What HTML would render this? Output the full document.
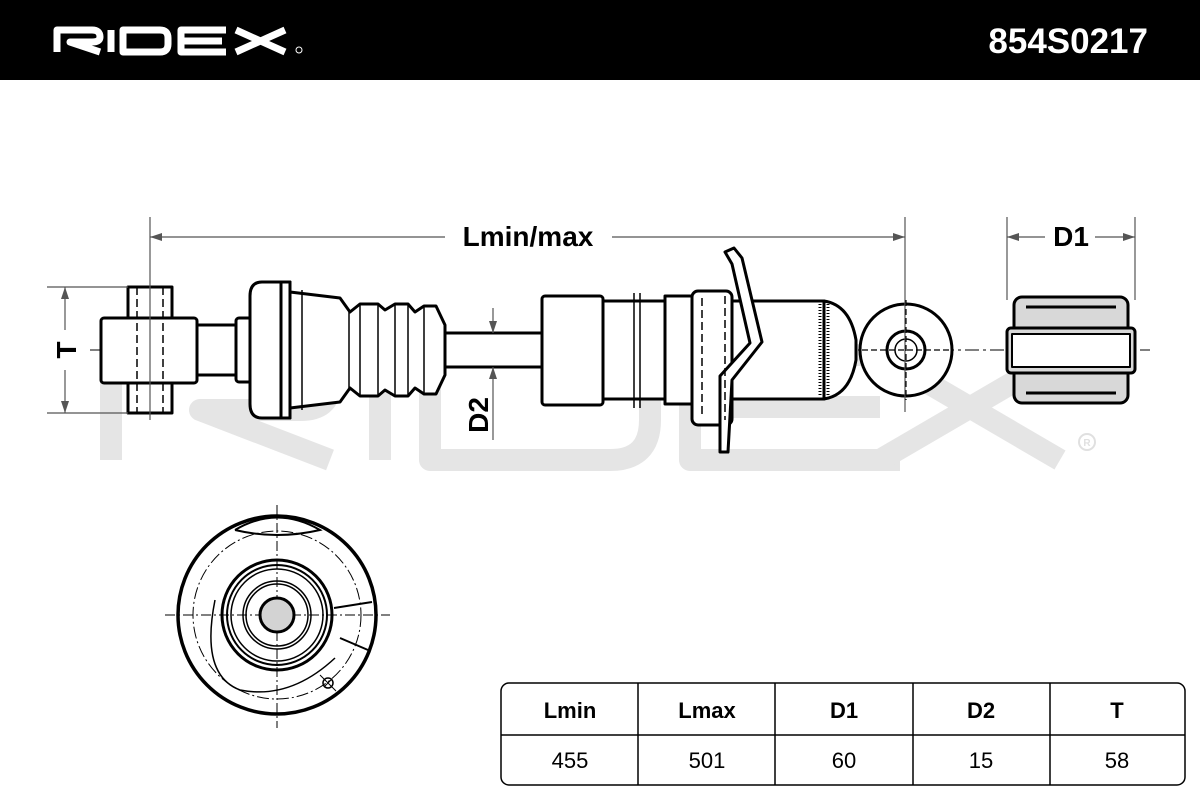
<!DOCTYPE html>
<html><head><meta charset="utf-8"><style>
html,body{margin:0;padding:0;background:#fff;width:1200px;height:800px;overflow:hidden}
svg{display:block}
text{font-family:"Liberation Sans",sans-serif;font-weight:bold}
</style></head><body>
<svg width="1200" height="800" viewBox="0 0 1200 800" xmlns="http://www.w3.org/2000/svg">
<rect x="0" y="0" width="1200" height="80" fill="#000"/>
<!-- logo -->
<g fill="none" stroke="#fff" stroke-width="7" stroke-linejoin="round">
<path d="M57 52 V30 H92 Q100 30 100 37 Q100 42 92 42 H70 L100 52"/>
<path d="M111 30 V52"/>
<path d="M123 30 H160 Q168 30 168 38 V44 Q168 52 160 52 H123 Z"/>
<path d="M226 30 H181 V52 H226 M181 41 H222"/>
<path d="M236 30 L285 52 M285 30 L236 52"/>
</g>
<circle cx="299" cy="50" r="3" fill="none" stroke="#fff" stroke-width="1"/>
<text x="1148" y="53" fill="#fff" font-size="35" text-anchor="end">854S0217</text>
<!-- watermark -->
<g fill="none" stroke="#e5e5e5" stroke-width="22" stroke-linejoin="round">
<path d="M111 460 V355 H300 Q330 355 330 385 Q330 410 300 410 H200 L330 460"/>
<path d="M380 355 V460"/>
<path d="M430 355 H610 Q650 355 650 395 V420 Q650 460 610 460 H430 Z"/>
<path d="M900 355 H690 V460 H900 M690 407 H880"/>
<path d="M880 355 L1060 460 M1060 355 L880 460"/>
</g>
<circle cx="1087" cy="442" r="8" fill="none" stroke="#e0e0e0" stroke-width="2"/>
<text x="1087" y="446" font-size="10" fill="#e0e0e0" text-anchor="middle">R</text>
<!-- centerline -->
<path d="M90 350 H1150" stroke="#000" stroke-width="1" stroke-dasharray="14 4 3 4"/>
<g fill="#fff" stroke="#000" stroke-width="3" stroke-linejoin="round">
<!-- left eye -->
<rect x="101" y="318" width="96" height="65" rx="3"/>
<rect x="128" y="287" width="44" height="31"/>
<rect x="128" y="383" width="44" height="30"/>
<rect x="197" y="325" width="40" height="50"/>
<rect x="236" y="318" width="16" height="64" rx="3"/>
<path d="M290 282 H262 Q250 282 250 296 V404 Q250 418 262 418 H290 Z"/>
<rect x="281" y="282" width="9" height="136"/>
<!-- boot -->
<path d="M290 292 L340 298 L350 312 L360 304 H378 L385 310 L395 304 H408 L415 312 L424 306 H436 L445 325 V375 L436 394 H424 L415 388 L408 396 H395 L385 390 L378 396 H360 L350 388 L340 402 L290 408 Z"/>
<rect x="445" y="333" width="98" height="34"/>
<!-- tube -->
<rect x="542" y="296" width="61" height="109" rx="3"/>
<rect x="603" y="301" width="62" height="98"/>
<path d="M665 296 H694 V404 H665 Z"/>
<rect x="730" y="301" width="94" height="98"/>
<path d="M824 301 Q850 305 856 340 V360 Q850 395 824 399 Z"/>
<rect x="692" y="291" width="40" height="134" rx="6"/>
<path d="M725 252 L734 248 L742 258 L762 342 L732 380 L728 452 L720 452 L720 376 L750 343 L732 264 Z"/>
<!-- right eye -->
<circle cx="906" cy="350" r="46"/>
<circle cx="906" cy="350" r="19"/>
<!-- right bushing -->
<rect x="1014" y="297" width="114" height="106" rx="8" fill="#d8d8d8"/>
<rect x="1007" y="328" width="128" height="45" rx="4" fill="#d8d8d8"/>
<rect x="1012" y="334" width="118" height="33" fill="#fff" stroke-width="2"/>
</g>
<g fill="none" stroke="#000" stroke-width="1.5">
<path d="M634 293 V408 M640 293 V408"/>
<path d="M828 304 V396 M820 304 V396" stroke-dasharray="1 2" stroke-width="3"/>
<circle cx="906" cy="350" r="11"/>
<path d="M137 287 V413 M163 287 V413" stroke-dasharray="8 4"/>
<path d="M702 298 V418 M725 296 V420" stroke-dasharray="8 4"/>
<path d="M302 290 V410 M349 312 V388 M360 304 V396 M378 304 V396 M395 304 V396 M408 304 V396 M424 306 V394"/>
<path d="M1026 307 H1116 M1026 393 H1116" stroke-width="3"/>
</g>
<!-- dimensions -->
<g stroke="#555" stroke-width="1.2" fill="none">
<path d="M150 217 V420 M905 217 V412 M1007 217 V300 M1135 217 V300"/>
<path d="M150 237 H445 M612 237 H905"/>
<path d="M1007 237 H1045 M1095 237 H1135"/>
<path d="M47 287 H128 M47 413 H128 M65 287 V330 M65 370 V413"/>
<path d="M493 308 V333 M493 367 V440"/>
<path d="M906 300 V400 M862 350 H950" stroke="#000" stroke-dasharray="6 3"/>
</g>
<g fill="#555">
<path d="M150 237 l12 -4 v8z M905 237 l-12 -4 v8z M1007 237 l12 -4 v8z M1135 237 l-12 -4 v8z"/>
<path d="M65 287 l-4 12 h8z M65 413 l-4 -12 h8z M493 333 l-4 -12 h8z M493 367 l-4 12 h8z"/>
</g>
<text x="528" y="246" font-size="28" text-anchor="middle">Lmin/max</text>
<text x="1071" y="246" font-size="28" text-anchor="middle">D1</text>
<text transform="translate(76 350) rotate(-90)" font-size="28" text-anchor="middle">T</text>
<text transform="translate(488 415) rotate(-90)" font-size="28" text-anchor="middle">D2</text>
<!-- bottom view -->
<g fill="none" stroke="#000">
<path d="M277 505 V728 M165 615 H390" stroke-width="1" stroke-dasharray="10 3 2 3"/>
<circle cx="277" cy="615" r="99" stroke-width="3.5"/>
<circle cx="277" cy="615" r="84" stroke-width="1" stroke-dasharray="12 3 2 3"/>
<path d="M235 530 Q277 505 320 530 Q277 540 235 530" stroke-width="2"/>
<path d="M335 658 Q290 700 240 690 Q200 675 215 600" stroke-width="1.5"/>
<path d="M334 608 L372 602 M340 638 L368 650" stroke-width="2"/>
<circle cx="277" cy="615" r="55" stroke-width="3"/>
<circle cx="277" cy="615" r="50" stroke-width="2"/>
<circle cx="277" cy="615" r="46" stroke-width="1.5"/>
<circle cx="277" cy="615" r="34" stroke-width="1.5"/>
<circle cx="277" cy="615" r="31" stroke-width="1.5"/>
<circle cx="277" cy="615" r="17" stroke-width="3" fill="#d3d3d3"/>
<circle cx="328" cy="683" r="5" stroke-width="1.5"/>
<path d="M320 675 L336 691 M324 687 L332 679" stroke-width="1"/>
</g>
<!-- table -->
<g fill="none" stroke="#000" stroke-width="1.5">
<rect x="501" y="683" width="684" height="102" rx="8"/>
<path d="M501 735 H1185 M638 683 V785 M775 683 V785 M913 683 V785 M1050 683 V785"/>
</g>
<g font-size="22" text-anchor="middle">
<text x="570" y="718">Lmin</text><text x="707" y="718">Lmax</text><text x="844" y="718">D1</text><text x="981" y="718">D2</text><text x="1117" y="718">T</text>
</g>
<g font-size="22" text-anchor="middle" style="font-weight:normal">
<text x="570" y="768" style="font-weight:normal">455</text><text x="707" y="768" style="font-weight:normal">501</text><text x="844" y="768" style="font-weight:normal">60</text><text x="981" y="768" style="font-weight:normal">15</text><text x="1117" y="768" style="font-weight:normal">58</text>
</g>
</svg>
</body></html>
